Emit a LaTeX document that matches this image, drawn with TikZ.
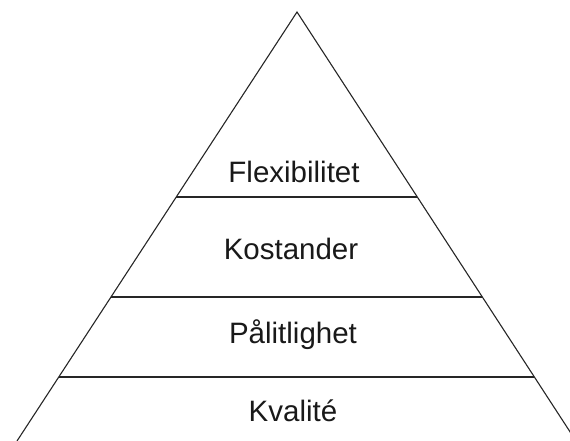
\documentclass[tikz,border=0pt]{standalone}
\usepackage{fontspec}
\setmainfont{Liberation Sans}
\usetikzlibrary{calc}
\begin{document}
\begin{tikzpicture}[x=1pt,y=-1pt,
  edge/.style={draw=black!85,line width=1.1pt},
  tier/.style={font=\fontsize{29.5}{33}\selectfont,text=black!90,inner sep=0pt}]
\useasboundingbox (0,0) rectangle (570,441);
% outline of the pyramid (base lies below the page edge)
\coordinate (apex) at (297,12);
\coordinate (bl) at (17,441);
\coordinate (br) at (576,441);
\draw[edge] (bl) -- (apex) -- (br);
% tier dividers
\coordinate (l1) at ($(apex)!0.4312!(bl)$);
\coordinate (r1) at ($(apex)!0.4312!(br)$);
\coordinate (l2) at ($(apex)!0.6643!(bl)$);
\coordinate (r2) at ($(apex)!0.6643!(br)$);
\coordinate (l3) at ($(apex)!0.8508!(bl)$);
\coordinate (r3) at ($(apex)!0.8508!(br)$);
\draw[edge] (l1) -- (r1);
\draw[edge] (l2) -- (r2);
\draw[edge] (l3) -- (r3);
% tier labels
\node[tier] (flex) at (294,172) {Flexibilitet};
\node[tier] (kost) at (291,249) {Kostander};
\node[tier] (pal) at (293,335) {Pålitlighet};
\node[tier] (kval) at (293,411) {Kvalité};
\end{tikzpicture}
\end{document}
